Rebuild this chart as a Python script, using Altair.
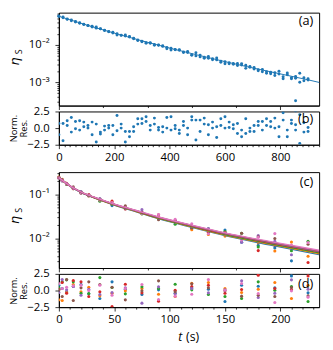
import altair as alt
import pandas as pd

FONT = "Open Sans"
BLUE = "#1f77b4"

# ---------------- panel (a)/(b): single decay ----------------
T_A = [0, 15, 30, 45, 60, 75, 90, 105, 120, 135, 150, 165, 180, 195, 210, 225,
       240, 255, 270, 285, 300, 315, 330, 345, 360, 375, 390, 405, 420, 435,
       450, 465, 480, 495, 510, 525, 540, 555, 570, 585, 600, 615, 630, 645,
       660, 675, 690, 705, 720, 735, 750, 765, 780, 795, 810, 825, 840, 855,
       870, 885, 900]
# log10(eta_S), two repeated measurements per time
LOG_ETA_A1 = [-1.220, -1.246, -1.312, -1.352, -1.381, -1.417, -1.453, -1.481, -1.520, -1.549,
              -1.568, -1.612, -1.647, -1.680, -1.733, -1.744, -1.758, -1.789, -1.832, -1.883,
              -1.914, -1.953, -1.957, -2.008, -2.001, -2.040, -2.104, -2.135, -2.120, -2.143,
              -2.202, -2.205, -2.281, -2.295, -2.322, -2.357, -2.358, -2.399, -2.403, -2.469,
              -2.506, -2.480, -2.497, -2.554, -2.541, -2.548, -2.603, -2.606, -2.670, -2.663,
              -2.718, -2.774, -2.748, -2.707, -2.856, -2.755, -2.884, -2.897, -3.006, -2.882,
              -2.912]
LOG_ETA_A2 = [-1.237, -1.272, -1.305, -1.330, -1.370, -1.403, -1.444, -1.476, -1.497, -1.517,
              -1.564, -1.604, -1.641, -1.660, -1.700, -1.736, -1.731, -1.776, -1.820, -1.869,
              -1.902, -1.939, -1.943, -1.990, -2.009, -2.024, -2.066, -2.087, -2.132, -2.131,
              -2.188, -2.177, -2.267, -2.211, -2.274, -2.332, -2.309, -2.369, -2.350, -2.436,
              -2.450, -2.510, -2.520, -2.497, -2.503, -2.631, -2.581, -2.646, -2.696, -2.720,
              -2.762, -2.734, -2.823, -2.782, -2.911, -2.805, -2.912, -2.851, -2.763, -2.962,
              -2.946]
T_A_EXTRA = [855]
LOG_ETA_A_EXTRA = [-3.50]

RES_B1 = [-1.0, -1.9, 1.1, 1.6, 1.0, 1.1, 0.9, 0.4, 0.9, 0.6,
          -0.6, 0.3, 0.4, 0.4, 1.9, 0.6, -0.5, -0.5, 0.2, 1.4,
          1.4, 1.7, 0.4, 1.5, -0.3, 0.2, 1.6, 1.7, -0.1, -0.3,
          1.0, 0.0, 1.7, 1.2, 1.2, 1.5, 0.5, 0.9, 0.2, 1.4,
          1.7, 0.1, -0.1, 0.7, -0.3, -0.8, 0.0, -0.5, 0.4, -0.3,
          0.4, 1.0, 0.0, -1.3, 1.2, -1.3, 0.7, 0.5, 2.0, -0.6,
          -0.5]
RES_B2 = [0.7, 0.7, 0.4, -0.6, -0.1, -0.3, 0.2, 0.0, -1.0, -2.1,
          -0.9, -0.3, 0.0, -1.0, -0.4, 0.0, -2.1, -1.3, -0.5, 0.6,
          0.7, 1.0, -0.3, 0.6, 0.1, -0.6, 0.0, -0.3, 0.4, -0.8,
          0.4, -1.0, 1.2, -1.8, -0.5, 0.6, -1.0, 0.0, -1.4, 0.4,
          0.0, 0.9, 0.5, -0.8, -1.3, 1.4, -0.5, 0.4, 1.0, 1.0,
          1.4, 0.2, 1.5, 0.2, 2.3, -0.3, 1.2, -0.3, -2.3, 0.8,
          0.1]
RES_B_EXTRA = [2.6]

T_FIT_A = [0, 100, 200, 300, 400, 500, 600, 700, 800, 900, 940]
ETA_FIT_A = [0.0589, 0.0343, 0.0207, 0.0129, 0.00822, 0.00537, 0.00355, 0.0024,
             0.00166, 0.00115, 0.00098]

# ---------------- panel (c)/(d): seven series ----------------
SERIES = ["blue", "orange", "green", "red", "purple", "brown", "pink"]
COLORS = ["#1f77b4", "#ff7f0e", "#2ca02c", "#d62728", "#9467bd", "#8c564b", "#e377c2"]
T_C = [0, 3, 7, 13, 20, 27, 37, 48, 60, 75, 90, 105, 120, 135, 150, 165, 180, 195, 210, 225]
LOG_ETA_C = {
    "blue":   [-0.628, -0.681, -0.753, -0.863, -0.969, -1.018, -1.102, -1.256, -1.326, -1.417,
               -1.557, -1.632, -1.774, -1.857, -1.813, -2.087, -2.160, -2.217, -2.511, -2.274],
    "orange": [-0.606, -0.661, -0.750, -0.866, -0.950, -1.034, -1.107, -1.211, -1.314, -1.441,
               -1.522, -1.599, -1.803, -1.912, -1.949, -1.977, -2.101, -2.288, -2.085, -2.405],
    "green":  [-0.624, -0.691, -0.773, -0.870, -0.946, -1.014, -1.159, -1.228, -1.296, -1.443,
               -1.550, -1.681, -1.736, -1.781, -1.845, -1.885, -2.194, -2.146, -2.283, -2.067],
    "red":    [-0.622, -0.690, -0.748, -0.872, -0.970, -1.005, -1.113, -1.155, -1.332, -1.406,
               -1.464, -1.627, -1.754, -1.863, -1.870, -1.988, -2.278, -2.156, -2.211, -2.549],
    "purple": [-0.617, -0.695, -0.754, -0.859, -0.938, -1.021, -1.103, -1.203, -1.312, -1.348,
               -1.547, -1.593, -1.729, -1.778, -1.898, -2.090, -1.935, -2.067, -2.372, -2.275],
    "brown":  [-0.621, -0.667, -0.772, -0.831, -0.954, -1.039, -1.131, -1.220, -1.260, -1.408,
               -1.579, -1.604, -1.764, -1.822, -1.880, -1.883, -1.962, -2.003, -2.225, -2.135],
    "pink":   [-0.631, -0.679, -0.758, -0.859, -0.959, -1.015, -1.127, -1.188, -1.303, -1.436,
               -1.460, -1.565, -1.669, -1.895, -1.878, -2.038, -1.974, -1.892, -2.151, -2.095],
}
RES_D = {
    "blue":   [0.8, 0.3, -0.2, 0.6, 0.9, -0.5, -1.2, 1.3, 0.2, -0.6, 0.1, -0.4, 0.4, 0.2, -1.65, 0.8, 0.65, 0.4, 2.2, -0.35],
    "orange": [-1.4, -1.5, -0.3, 0.9, -0.2, 0.5, -0.8, -0.4, -0.05, 0.3, -0.55, -0.9, 1.1, 1.2, 0.3, -0.3, 0.2, 1.2, -1.2, 0.8],
    "green":  [0.4, 1.3, 1.6, 1.3, -0.4, -0.45, 1.94, 0.45, -0.5, 0.55, 0.3, 0.95, 0.1, -0.6, -0.9, -1.2, 1.3, 0.05, 0.6, -1.65],
    "red":    [0.2, 1.2, -0.4, 1.5, 1.3, -0.9, -0.2, -2.4, 0.95, -0.35, -1.6, 0.05, 0.6, 0.8, -0.4, 0.15, 2.3, 0.3, 0.15, 2.2],
    "purple": [-0.3, 1.64, 0.1, 0.6, -0.7, 0.2, -0.6, -0.3, 0.4, -1.9, 0.55, -0.5, 0.3, -0.35, 0.1, 1.45, -1.05, -0.4, 1.6, 0.2],
    "brown":  [0.1, -0.9, 1.64, -1.5, 0.4, 1.3, 0.9, 0.5, -1.4, -0.05, 1.45, -0.2, 1.0, 0.4, -0.05, -0.85, -0.7, -0.9, 0.45, -0.8],
    "pink":   [1.05, 0.3, 0.5, 0.7, 0.8, 0.0, 0.8, -0.7, 0.3, 0.9, -1.35, -0.85, -0.55, 1.64, 0.05, 1.05, -0.45, -1.8, -0.05, -1.0],
}
T_FIT_C = [0, 10, 20, 35, 50, 70, 90, 120, 150, 190, 235]
LOG_FIT_C = {
    "blue":   [-0.620, -0.813, -0.955, -1.109, -1.243, -1.398, -1.553, -1.751, -1.938, -2.149, -2.370],
    "orange": [-0.620, -0.812, -0.953, -1.106, -1.239, -1.392, -1.545, -1.740, -1.926, -2.132, -2.350],
    "green":  [-0.620, -0.811, -0.952, -1.103, -1.234, -1.386, -1.538, -1.730, -1.913, -2.116, -2.330],
    "red":    [-0.620, -0.810, -0.950, -1.100, -1.230, -1.380, -1.530, -1.720, -1.900, -2.100, -2.310],
    "purple": [-0.620, -0.809, -0.949, -1.098, -1.227, -1.376, -1.524, -1.712, -1.890, -2.088, -2.295],
    "brown":  [-0.620, -0.809, -0.948, -1.096, -1.225, -1.373, -1.520, -1.707, -1.884, -2.080, -2.285],
    "pink":   [-0.620, -0.808, -0.947, -1.094, -1.221, -1.368, -1.515, -1.700, -1.874, -2.068, -2.270],
}

# ---------------- axis tick lists ----------------
XA_TICKS = list(range(0, 941, 20))
XC_TICKS = list(range(0, 236, 10))
YA_TICKS = [0.0003, 0.0004, 0.0005, 0.0006, 0.0007, 0.0008, 0.0009, 0.001,
            0.002, 0.003, 0.004, 0.005, 0.006, 0.007, 0.008, 0.009, 0.01,
            0.02, 0.03, 0.04, 0.05, 0.06, 0.07]
YC_TICKS = [0.003, 0.004, 0.005, 0.006, 0.007, 0.008, 0.009, 0.01,
            0.02, 0.03, 0.04, 0.05, 0.06, 0.07, 0.08, 0.09, 0.1, 0.2, 0.3]
RES_TICKS = [-2.5, 0, 2.5]

# ---------------- data frames ----------------
df_a = pd.DataFrame({"t": T_A + T_A + T_A_EXTRA,
                     "eta": [10 ** v for v in LOG_ETA_A1 + LOG_ETA_A2 + LOG_ETA_A_EXTRA]})
df_b = pd.DataFrame({"t": T_A + T_A + T_A_EXTRA, "res": RES_B1 + RES_B2 + RES_B_EXTRA})
df_fa = pd.DataFrame({"t": T_FIT_A, "eta": ETA_FIT_A})

rows_c, rows_d, rows_fc = [], [], []
for s in SERIES:
    for t, v, r in zip(T_C, LOG_ETA_C[s], RES_D[s]):
        rows_c.append({"s": s, "t": t, "eta": 10 ** v})
        rows_d.append({"s": s, "t": t, "res": r})
    for t, v in zip(T_FIT_C, LOG_FIT_C[s]):
        rows_fc.append({"s": s, "t": t, "eta": 10 ** v})
df_c = pd.DataFrame(rows_c)
df_d = pd.DataFrame(rows_d)
df_fc = pd.DataFrame(rows_fc)
one = pd.DataFrame({"k": [0]})

W = 266
HA, HB, HC, HD = 95, 34, 98, 34
GAP = 6
LBL = 11.5


def tick_size(major):
    return {"condition": {"test": f"datum.value % {major} === 0", "value": 4}, "value": 2}


def x_axis(ticks, major, labels):
    return alt.Axis(values=ticks, title=None, grid=False, labels=labels,
                    labelExpr=f"datum.value % {major} === 0 ? datum.label : ''",
                    tickSize=tick_size(major), labelPadding=3, labelFlush=False)


def log_axis(ticks, labmap):
    expr = " : ".join([f"datum.value === {v} ? '{lab}'" for v, lab in labmap]) + " : ''"
    test = " || ".join([f"datum.value === {v}" for v, _ in labmap])
    return alt.Axis(values=ticks, title=None, grid=False, labelExpr=expr,
                    tickSize={"condition": {"test": test, "value": 4}, "value": 2},
                    labelPadding=6, minExtent=30, maxExtent=30)


res_axis = alt.Axis(values=RES_TICKS, format=".1f", grid=False, tickSize=4,
                    labelPadding=6, minExtent=30, maxExtent=30, labelOverlap=False,
                    labelFlush=False,
                    title=["Norm.", "Res."], titleFont=FONT, titleFontSize=9.5,
                    titleFontWeight="normal", titleLineHeight=10.5, titlePadding=1,
                    titleColor="black")


def tag(txt, y):
    return alt.Chart(one).mark_text(text=txt, font=FONT, fontSize=13, align="right",
                                    baseline="middle", color="black").encode(
        x=alt.value(W - 6), y=alt.value(y))


def eta_label(y_eta, y_s):
    e = alt.Chart(one).mark_text(text="η", font="DejaVu Sans", fontSize=13, fontStyle="italic",
                                 angle=270, align="center", baseline="middle",
                                 color="black").encode(x=alt.value(-45), y=alt.value(y_eta))
    s = alt.Chart(one).mark_text(text="S", font=FONT, fontSize=9, angle=270, align="center",
                                 baseline="middle", color="black").encode(
        x=alt.value(-41), y=alt.value(y_s))
    return e, s


xa_scale = alt.Scale(domain=[0, 940], nice=False, zero=False)
xc_scale = alt.Scale(domain=[0, 235], nice=False, zero=False)
res_scale = alt.Scale(domain=[-2.5, 2.5], nice=False, zero=False)

# (a)
pa = alt.Chart(df_a).mark_circle(size=9, opacity=1, color=BLUE).encode(
    x=alt.X("t:Q", scale=xa_scale, axis=x_axis(XA_TICKS, 200, False)),
    y=alt.Y("eta:Q", scale=alt.Scale(type="log", domain=[0.000233, 0.0738], nice=False),
            axis=log_axis(YA_TICKS, [(0.01, "10⁻²"), (0.001, "10⁻³")])))
la = alt.Chart(df_fa).mark_line(color=BLUE, strokeWidth=1).encode(x="t:Q", y="eta:Q")
ea, sa = eta_label(50, 40)
chart_a = alt.layer(pa, la, tag("(a)", 9), ea, sa).properties(width=W, height=HA)

# (b)
pb = alt.Chart(df_b).mark_circle(size=9, opacity=1, color=BLUE, clip=True).encode(
    x=alt.X("t:Q", scale=xa_scale, axis=x_axis(XA_TICKS, 200, True)),
    y=alt.Y("res:Q", scale=res_scale, axis=res_axis))
chart_b = alt.layer(pb, tag("(b)", 8)).properties(width=W, height=HB)

# empty spacer row between the two figure halves
spacer = alt.Chart(one).mark_text(text=" ").encode(
    x=alt.value(0), y=alt.value(0)).properties(
    width=W, height=16, view=alt.ViewBackground(stroke="transparent"))

color = alt.Color("s:N", scale=alt.Scale(domain=SERIES, range=COLORS), legend=None)

# (c)
pc = alt.Chart(df_c).mark_circle(size=10, opacity=1).encode(
    x=alt.X("t:Q", scale=xc_scale, axis=x_axis(XC_TICKS, 50, False)),
    y=alt.Y("eta:Q", scale=alt.Scale(type="log", domain=[0.00212, 0.3193], nice=False),
            axis=log_axis(YC_TICKS, [(0.1, "10⁻¹"), (0.01, "10⁻²")])),
    color=color)
lc = alt.Chart(df_fc).mark_line(strokeWidth=1.4, interpolate="monotone").encode(
    x="t:Q", y="eta:Q", color=color, detail="s:N")
ec, sc = eta_label(49, 39)
chart_c = alt.layer(pc, lc, tag("(c)", 10), ec, sc).properties(width=W, height=HC)

# (d)
pd_ = alt.Chart(df_d).mark_circle(size=10, opacity=1, clip=True).encode(
    x=alt.X("t:Q", scale=xc_scale, axis=x_axis(XC_TICKS, 50, True)),
    y=alt.Y("res:Q", scale=res_scale, axis=res_axis),
    color=color)
t_it = alt.Chart(one).mark_text(text="t", font=FONT, fontSize=12.5, fontStyle="italic",
                                align="left", baseline="middle", color="black").encode(
    x=alt.value(122), y=alt.value(65))
t_s = alt.Chart(one).mark_text(text="(s)", font=FONT, fontSize=12.5, align="left",
                               baseline="middle", color="black").encode(
    x=alt.value(130), y=alt.value(65))
chart_d = alt.layer(pd_, tag("(d)", 10), t_it, t_s).properties(width=W, height=HD)

chart = alt.vconcat(chart_a, chart_b, spacer, chart_c, chart_d,
                    spacing=GAP, bounds="flush").properties(
    padding={"left": 0, "top": 0, "right": 2, "bottom": 0}
).configure_view(stroke="black", strokeWidth=1).configure_axis(
    labelFont=FONT, labelFontSize=LBL, labelColor="black", tickColor="black",
    domainColor="black", tickWidth=0.8, domainWidth=1
)

chart.save("out.html", embed_options={"renderer": "svg", "actions": False})
